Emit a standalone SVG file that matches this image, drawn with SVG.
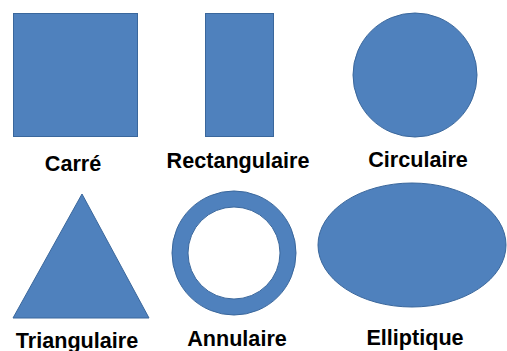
<svg xmlns="http://www.w3.org/2000/svg" width="507" height="351" viewBox="0 0 507 351">
<style>
.shape{fill:#4F81BD;stroke:#3A679C;stroke-width:1}
.lbl{font-family:"Liberation Sans",Arial,sans-serif;font-weight:bold;font-size:21.6px;fill:#000;text-anchor:middle}
</style>
<rect width="507" height="351" fill="#fff"/>
<g id="carre">
<rect class="shape" x="13.5" y="13.5" width="124" height="123"/>
<text class="lbl" x="73" y="171">Carré</text>
</g>
<g id="rectangulaire">
<rect class="shape" x="205.5" y="13.5" width="68" height="123"/>
<text class="lbl" x="238" y="168">Rectangulaire</text>
</g>
<g id="circulaire">
<circle class="shape" cx="415" cy="75" r="62"/>
<text class="lbl" x="418" y="167">Circulaire</text>
</g>
<g id="triangulaire">
<polygon class="shape" points="82,194 149,318 13,318"/>
<text class="lbl" x="77" y="348">Triangulaire</text>
</g>
<g id="annulaire">
<path class="shape" fill-rule="evenodd" d="M296,253 A62,62 0 1 1 172,253 A62,62 0 1 1 296,253 Z M280,253 A46,46 0 1 0 188,253 A46,46 0 1 0 280,253 Z"/>
<text class="lbl" x="237" y="346">Annulaire</text>
</g>
<g id="elliptique">
<ellipse class="shape" cx="412" cy="245" rx="94" ry="62"/>
<text class="lbl" x="415" y="345">Elliptique</text>
</g>
<g id="connectors"></g>
</svg>
